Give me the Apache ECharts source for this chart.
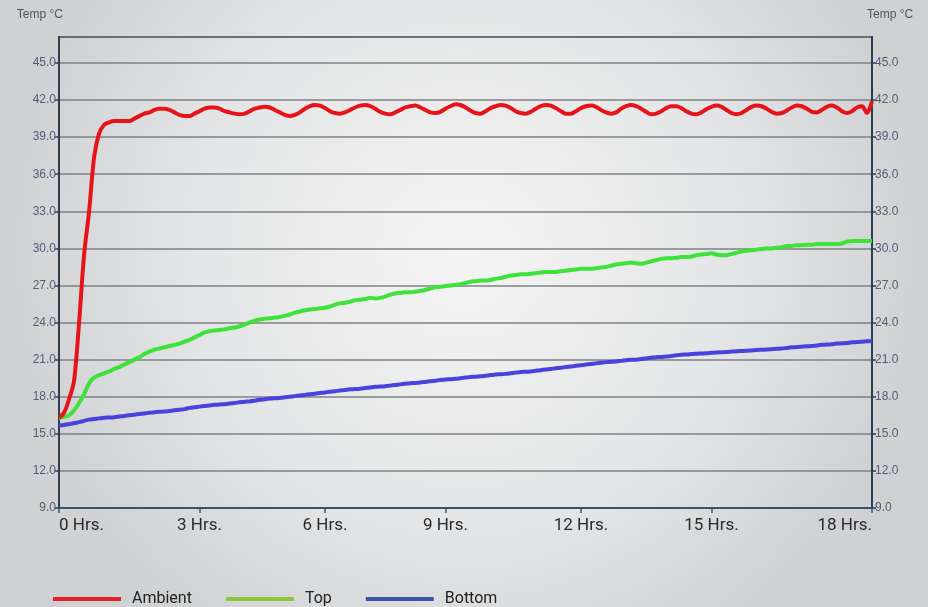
<!DOCTYPE html>
<html>
<head>
<meta charset="utf-8">
<script src="https://cdn.jsdelivr.net/npm/echarts@6/dist/echarts.min.js"></script>
<style>
html,body{margin:0;padding:0;width:928px;height:607px;overflow:hidden;}
#chart{width:928px;height:607px;}
</style>
</head>
<body>
<div id="chart"></div>
<script>
// ---- data ----
var seriesNames = ["Ambient", "Top", "Bottom"];
var axisTitle = "Temp °C";
// sample indices where hour tick labels are placed
var hourTickIndex = [0, 28, 53, 77, 104, 130, 162];
var hourTickLabel = ["0 Hrs.", "3 Hrs.", "6 Hrs.", "9 Hrs.", "12 Hrs.", "15 Hrs.", "18 Hrs."];
var yTicks = [9, 12, 15, 18, 21, 24, 27, 30, 33, 36, 39, 42, 45];

var ambientTemp = [
16.3,16.7,17.8,19.3,24.0,29.5,33.0,37.4,39.3,40.0,
40.2,40.3,40.3,40.3,40.3,40.5,40.7,40.9,41.0,41.2,
41.3,41.3,41.2,41.0,40.8,40.7,40.7,40.9,41.1,41.3,
41.4,41.4,41.3,41.1,41.0,40.9,40.85,40.9,41.1,41.3,
41.4,41.45,41.4,41.2,41.0,40.8,40.7,40.8,41.0,41.3,
41.5,41.6,41.55,41.35,41.1,40.95,40.9,41.0,41.2,41.4,
41.55,41.6,41.5,41.3,41.05,40.9,40.85,41.0,41.2,41.4,
41.5,41.55,41.4,41.2,41.0,40.95,41.05,41.3,41.5,41.65,
41.6,41.4,41.15,40.95,40.9,41.1,41.35,41.5,41.6,41.55,
41.35,41.1,40.95,40.9,41.05,41.3,41.5,41.6,41.55,41.35,
41.1,40.9,40.9,41.1,41.35,41.5,41.55,41.45,41.2,41.0,
40.9,41.0,41.3,41.5,41.6,41.5,41.3,41.05,40.85,40.9,
41.1,41.35,41.5,41.5,41.35,41.1,40.9,40.85,41.0,41.25,
41.45,41.55,41.45,41.2,40.95,40.85,40.95,41.2,41.45,41.55,
41.5,41.3,41.05,40.9,40.95,41.15,41.4,41.55,41.5,41.3,
41.05,41.0,41.2,41.45,41.55,41.4,41.1,40.95,41.1,41.4,
41.5,40.95,41.9
];
var topTemp = [
16.3,16.35,16.5,16.9,17.5,18.2,19.1,19.55,19.75,19.9,
20.05,20.25,20.4,20.6,20.8,21.0,21.2,21.45,21.65,21.8,
21.9,22.0,22.1,22.2,22.3,22.45,22.6,22.8,23.0,23.2,
23.3,23.35,23.4,23.45,23.55,23.6,23.7,23.85,24.0,24.15,
24.25,24.3,24.35,24.4,24.45,24.55,24.65,24.8,24.9,25.0,
25.05,25.1,25.15,25.2,25.3,25.45,25.55,25.6,25.7,25.8,
25.85,25.9,26.0,25.95,26.0,26.1,26.25,26.35,26.4,26.45,
26.45,26.5,26.55,26.65,26.75,26.85,26.9,26.95,27.0,27.05,
27.1,27.2,27.3,27.35,27.4,27.4,27.45,27.55,27.6,27.7,
27.8,27.85,27.9,27.9,27.95,28.0,28.05,28.1,28.1,28.1,
28.15,28.2,28.25,28.3,28.35,28.35,28.35,28.4,28.45,28.5,
28.6,28.7,28.75,28.8,28.85,28.8,28.75,28.85,28.95,29.05,
29.15,29.2,29.2,29.25,29.3,29.3,29.35,29.45,29.5,29.55,
29.6,29.5,29.45,29.45,29.55,29.65,29.75,29.8,29.85,29.9,
29.95,30.0,30.0,30.05,30.1,30.2,30.2,30.25,30.25,30.3,
30.3,30.35,30.35,30.35,30.35,30.35,30.4,30.55,30.6,30.6,
30.6,30.6,30.6
];
var bottomTemp = [
15.7,15.72,15.78,15.85,15.95,16.05,16.15,16.2,16.25,16.3,
16.32,16.35,16.4,16.45,16.5,16.55,16.6,16.65,16.7,16.75,
16.78,16.8,16.85,16.9,16.95,17.0,17.1,17.15,17.2,17.25,
17.3,17.35,17.38,17.4,17.45,17.5,17.55,17.6,17.62,17.68,
17.75,17.8,17.85,17.88,17.9,17.95,18.0,18.05,18.1,18.15,
18.2,18.25,18.3,18.35,18.4,18.45,18.5,18.55,18.6,18.62,
18.65,18.7,18.75,18.8,18.82,18.85,18.9,18.95,19.0,19.05,
19.1,19.12,19.15,19.2,19.25,19.3,19.35,19.4,19.42,19.45,
19.5,19.55,19.6,19.62,19.65,19.7,19.75,19.8,19.82,19.85,
19.9,19.95,20.0,20.02,20.05,20.1,20.15,20.2,20.25,20.3,
20.35,20.4,20.45,20.5,20.55,20.6,20.65,20.7,20.75,20.8,
20.82,20.85,20.9,20.95,21.0,21.0,21.05,21.1,21.15,21.2,
21.22,21.25,21.3,21.35,21.4,21.42,21.45,21.48,21.5,21.52,
21.55,21.58,21.6,21.62,21.65,21.68,21.7,21.72,21.75,21.78,
21.8,21.82,21.85,21.88,21.9,21.95,22.0,22.02,22.05,22.08,
22.1,22.15,22.2,22.22,22.25,22.3,22.32,22.35,22.4,22.42,
22.45,22.48,22.5
];

// ---- chart ----
var sampleIdx = [];
for (var i = 0; i < ambientTemp.length; i++) sampleIdx.push(String(i));
var tickMap = {};
hourTickIndex.forEach(function (ix, k) { tickMap[ix] = hourTickLabel[k]; });

var axisDark = '#2b3e50';
var yLabelStyle = { color: '#525c76', fontSize: 12, fontFamily: 'Liberation Sans, Arial, sans-serif' };

function yAxisCfg(pos) {
  return {
    type: 'value', position: pos, min: 9, max: 47.1, interval: 3,
    name: axisTitle,
    nameLocation: 'end', nameGap: 22,
    nameTextStyle: { color: '#555', fontSize: 12, fontFamily: 'Liberation Sans, Arial, sans-serif',
      align: pos === 'left' ? 'right' : 'left', verticalAlign: 'middle',
      padding: pos === 'left' ? [0, -4, 0, 0] : [0, 0, 0, -5] },
    axisLine: { show: true, lineStyle: { color: axisDark, width: 2 } },
    axisTick: { show: true, length: 4, lineStyle: { color: axisDark, width: 1.5 } },
    axisLabel: Object.assign({ margin: 3, showMaxLabel: false,
      formatter: function (v) { return yTicks.indexOf(v) >= 0 ? v.toFixed(1) : ''; } }, yLabelStyle),
    splitLine: { show: pos === 'left', lineStyle: { color: '#7e8082', width: 1.5 } }
  };
}

var chart = echarts.init(document.getElementById('chart'), null, { renderer: 'canvas' });
chart.setOption({
  animation: false,
  backgroundColor: {
    type: 'radial', x: 0.5, y: 0.42, r: 0.75,
    colorStops: [{ offset: 0, color: '#f4f4f4' }, { offset: 0.6, color: '#e4e5e6' }, { offset: 1, color: '#cfd1d3' }]
  },
  grid: { left: 59, right: 56, top: 37, bottom: 99, show: true, borderColor: axisDark, borderWidth: 2, backgroundColor: 'transparent' },
  legend: {
    left: 48, top: 586, icon: 'rect', itemWidth: 68, itemHeight: 4, itemGap: 34,
    textStyle: { color: '#222', fontSize: 16, fontFamily: 'Roboto, sans-serif', padding: [0, 0, 0, 6] },
    data: [
      { name: seriesNames[0], itemStyle: { color: '#e52227', borderWidth: 0 } },
      { name: seriesNames[1], itemStyle: { color: '#8cc63f', borderWidth: 0 } },
      { name: seriesNames[2], itemStyle: { color: '#3a56a4', borderWidth: 0 } }
    ]
  },
  xAxis: {
    type: 'category', data: sampleIdx, boundaryGap: false,
    axisLine: { lineStyle: { color: '#35536a', width: 2 } },
    axisTick: { show: true, length: 5, interval: function (idx) { return tickMap.hasOwnProperty(idx); },
      lineStyle: { color: '#2f5a7a', width: 1.5 } },
    axisLabel: {
      interval: function (idx) { return tickMap.hasOwnProperty(idx); },
      formatter: function (v, idx) { return tickMap[idx] || ''; },
      color: '#2a2a2a', fontSize: 17, fontFamily: 'Roboto, sans-serif', margin: 9,
      alignMinLabel: 'left', alignMaxLabel: 'right'
    },
    splitLine: { show: false }
  },
  yAxis: [yAxisCfg('left'), yAxisCfg('right')],
  series: [
    { name: seriesNames[0], type: 'line', data: ambientTemp, showSymbol: false, smooth: 0.3,
      lineStyle: { color: '#e5141b', width: 4 }, itemStyle: { color: '#e5141b' }, z: 4 },
    { name: seriesNames[1], type: 'line', data: topTemp, showSymbol: false, smooth: 0.3,
      lineStyle: { color: '#3ee23a', width: 4 }, itemStyle: { color: '#3ee23a' }, z: 3 },
    { name: seriesNames[2], type: 'line', data: bottomTemp, showSymbol: false, smooth: 0.3,
      lineStyle: { color: '#4743dc', width: 4 }, itemStyle: { color: '#4743dc' }, z: 2 }
  ]
});
</script>
</body>
</html>
